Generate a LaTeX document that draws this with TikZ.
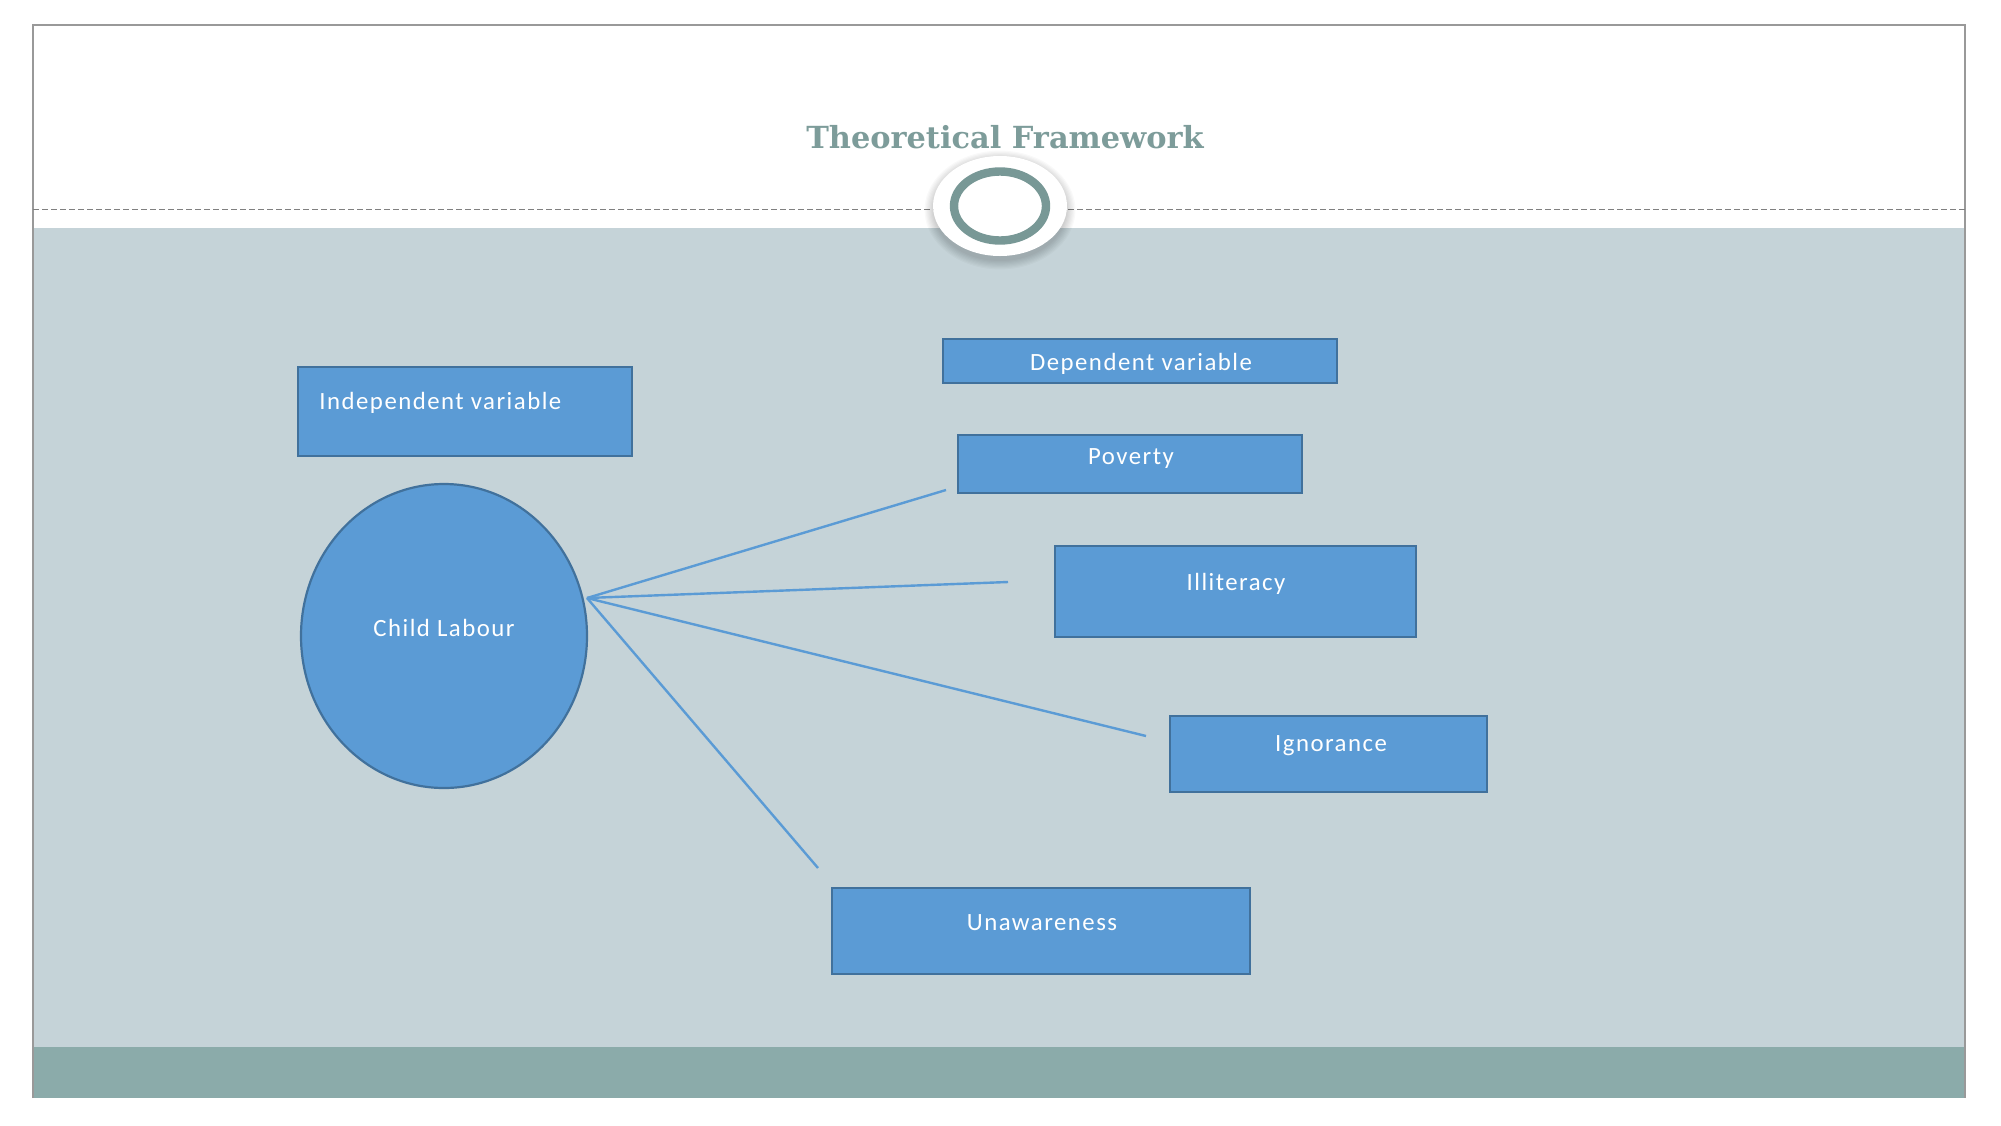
\documentclass[tikz,border=0pt]{standalone}
\usepackage{fontspec}
\setmainfont{Carlito}
\newfontfamily\titlefont{DejaVu Serif}
\newfontfamily\boxfont[LetterSpace=6]{Carlito}
\usetikzlibrary{shapes.geometric}
\definecolor{bandgray}{HTML}{C5D3D8}
\definecolor{bandteal}{HTML}{8BABAA}
\definecolor{ringcol}{HTML}{789896}
\definecolor{titlecol}{HTML}{7D9C9A}
\definecolor{boxfill}{HTML}{5B9BD5}
\definecolor{boxline}{HTML}{41719C}
\definecolor{linkcol}{HTML}{5B9BD5}
\tikzset{
  varbox/.style={draw=boxline, line width=1.1pt, fill=boxfill, inner sep=0pt},
  boxtext/.style={text=white, font=\boxfont\fontsize{12.4pt}{14pt}\selectfont, inner sep=0pt},
  link/.style={draw=linkcol, line width=1.2pt}
}
\begin{document}
\begin{tikzpicture}[x=0.5pt,y=-0.5pt]
\useasboundingbox (0,0) rectangle (2001,1125);
\fill[white] (0,0) rectangle (2001,1125);
% bands
\fill[bandgray] (33,228) rectangle (1965,1047);
\fill[bandteal] (33,1047) rectangle (1965,1098);
\draw[gray!80, line width=0.6pt] (33,1098) -- (33,25) -- (1965,25) -- (1965,1098);
\draw[gray, line width=0.5pt, dash pattern=on 3pt off 1.5pt] (33,209) -- (1965,209);
% title
\node[text=titlecol, font=\titlefont\bfseries\fontsize{15.2pt}{17pt}\selectfont, inner sep=0pt] (title) at (1005,137) {Theoretical Framework};
% emblem
\foreach \s in {0,1,...,7} {
  \fill[black, opacity=0.025] (1000,210) ellipse [x radius=67+\s*1.2, y radius=51+\s*1.2];
}
\fill[white] (1000,206) ellipse [x radius=67, y radius=50];
\draw[ringcol, line width=4.2pt] (1000,206) ellipse [x radius=46, y radius=34.5];
% boxes
\node[varbox, minimum width=167pt, minimum height=44.5pt] (indep) at (465,411.5) {};
\node[boxtext, anchor=west] (indept) at (319,403) {Independent variable};
\node[varbox, minimum width=197pt, minimum height=22pt] (dep) at (1140,361) {};
\node[boxtext] (dept) at (1141,364) {Dependent variable};
\node[varbox, minimum width=172pt, minimum height=29pt] (pov) at (1130,464) {};
\node[boxtext] (povt) at (1131,459) {Poverty};
\node[varbox, minimum width=180.5pt, minimum height=45.5pt] (ill) at (1235.5,591.5) {};
\node[boxtext] (illt) at (1236,584) {Illiteracy};
\node[varbox, minimum width=158.5pt, minimum height=38pt] (ign) at (1328.5,754) {};
\node[boxtext] (ignt) at (1331,746) {Ignorance};
\node[varbox, minimum width=209pt, minimum height=43pt] (una) at (1041,931) {};
\node[boxtext] (unat) at (1042,923) {Unawareness};
% ellipse
\node[ellipse, draw=boxline, line width=1.1pt, fill=boxfill, minimum width=143pt, minimum height=152pt, inner sep=0pt] (child) at (444,636) {};
\node[boxtext] (childt) at (444,628) {Child Labour};
% connectors
\coordinate (hub) at (587,598);
\coordinate (e1) at (946,490);
\coordinate (e2) at (1008,582);
\coordinate (e3) at (1146,736);
\coordinate (e4) at (818,868);
\draw[link] (hub) -- (e1);
\draw[link] (hub) -- (e2);
\draw[link] (hub) -- (e3);
\draw[link] (hub) -- (e4);
\end{tikzpicture}
\end{document}
